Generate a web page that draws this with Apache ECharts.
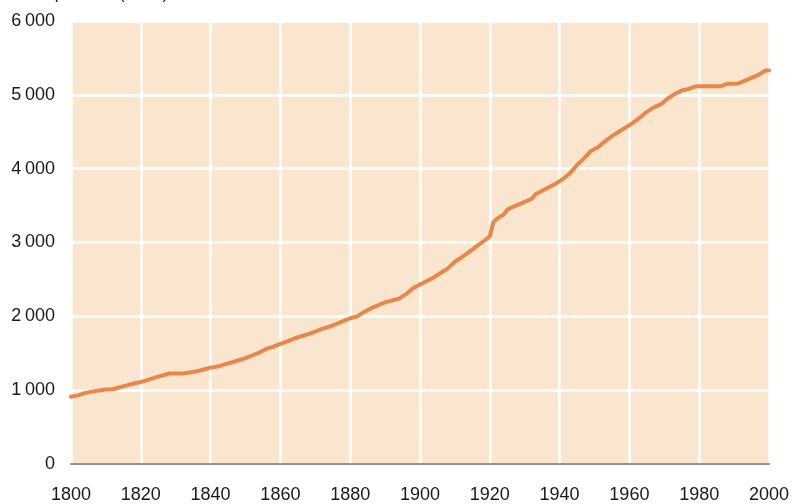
<!DOCTYPE html>
<html>
<head>
<meta charset="utf-8">
<script src="https://cdn.jsdelivr.net/npm/echarts@6/dist/echarts.min.js"></script>
<style>html,body{margin:0;padding:0;background:#fff;}#c{width:792px;height:504px;}</style>
</head>
<body>
<div id="c"></div>
<script>
const years = [1800,1802,1804,1806,1808,1810,1812,1814,1816,1818,1820,1822,1824,1826,1828,1830,1832,1834,1836,1838,
  1840,1842,1844,1846,1848,1850,1852,1854,1856,1858,1860,1862,1864,1866,1868,1870,1872,1874,1876,1878,
  1880,1882,1884,1886,1888,1890,1892,1894,1896,1898,1900,1902,1904,1906,1908,1910,1912,1914,1916,1918,
  1920,1921,1922,1924,1925,1926,1928,1930,1932,1933,1935,1937,1939,1941,1943,1945,1947,1949,1951,1953,
  1955,1957,1959,1961,1963,1965,1967,1969,1971,1973,1975,1977,1979,1986,1988,1991,1994,1997,1999,2000];
const population = [910,930,960,980,995,1010,1012,1040,1065,1090,1110,1140,1170,1195,1225,1225,1225,1240,1255,1280,
  1305,1320,1350,1375,1405,1435,1470,1510,1560,1590,1626,1660,1700,1730,1760,1793,1830,1860,1895,1935,
  1974,2000,2060,2110,2150,2190,2215,2240,2300,2380,2430,2480,2530,2590,2650,2740,2800,2870,2940,3010,
  3080,3270,3320,3380,3440,3470,3510,3550,3590,3650,3700,3750,3800,3860,3940,4050,4140,4240,4290,4370,
  4440,4500,4560,4620,4690,4770,4830,4870,4950,5010,5060,5080,5115,5115,5150,5150,5210,5270,5330,5330];
const xTicks = [1800,1820,1840,1860,1880,1900,1920,1940,1960,1980,2000];
const yTicks = [0,1000,2000,3000,4000,5000,6000];
const titleText = 'Population (1000)';

const chart = echarts.init(document.getElementById('c'), null, {renderer:'canvas'});
const fmt = v => { const s = String(v); return s.length > 3 ? s.slice(0, s.length-3) + '\u2009' + s.slice(-3) : s; };
chart.setOption({
  animation: false,
  graphic: [{
    type: 'text', x: 34, y: -14.5, silent: true,
    style: {text: titleText, font: '17px "Liberation Sans"', fill: '#222'}
  }],
  grid: {left: 71, right: 23, top: 21, bottom: 40, show: true, backgroundColor: '#fae6cf', borderWidth: 0},
  xAxis: {
    type: 'value', min: 1800, max: 2000, interval: 20,
    axisLine: {show: true, lineStyle: {color: '#9a9590', width: 2}},
    axisTick: {show: false},
    axisLabel: {fontFamily: 'Liberation Sans', fontSize: 18, color: '#1a1a1a', margin: 22,
      formatter: v => xTicks.includes(v) ? String(v) : ''},
    splitLine: {show: true, lineStyle: {color: '#ffffff', width: 2.5}}
  },
  yAxis: {
    type: 'value', min: 0, max: 6000, interval: 1000,
    axisLine: {show: false}, axisTick: {show: false},
    axisLabel: {fontFamily: 'Liberation Sans', fontSize: 18, color: '#1a1a1a', margin: 16,
      formatter: v => yTicks.includes(v) ? fmt(v) : ''},
    splitLine: {show: true, lineStyle: {color: '#ffffff', width: 2.5}}
  },
  series: [{
    type: 'line',
    data: years.map((y, i) => [y, population[i]]),
    showSymbol: false,
    lineStyle: {color: '#e8874a', width: 4, join: 'round', cap: 'round'},
    z: 3
  }]
});
</script>
</body>
</html>
